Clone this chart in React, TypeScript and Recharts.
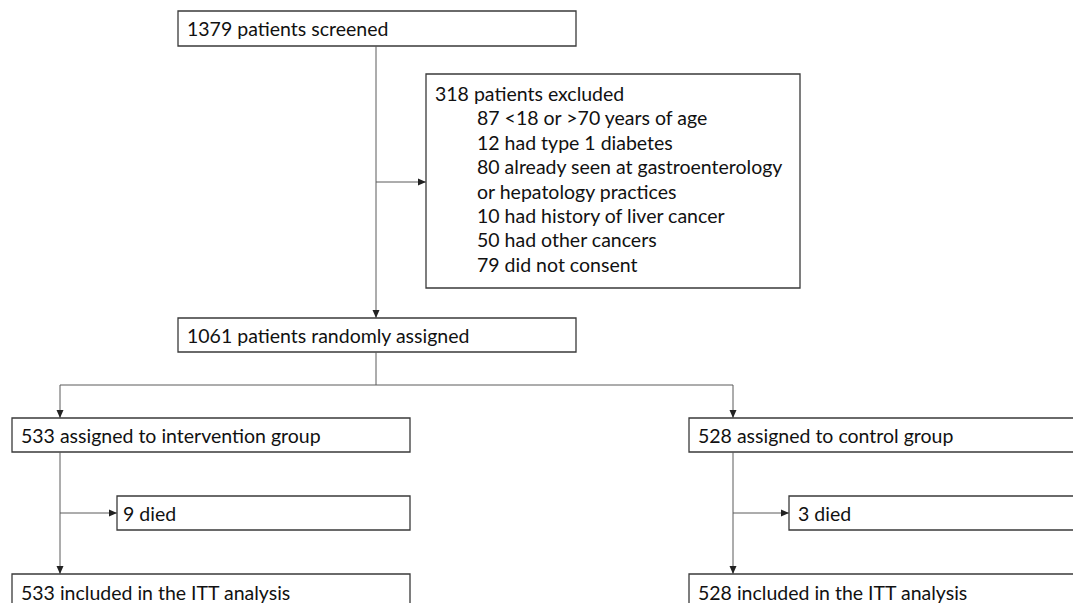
import { ComposedChart, XAxis, YAxis, ReferenceArea, ReferenceLine, Scatter } from "recharts";

// flowchart laid out in a 1073 x 603 data space (y grows downward)
const boxes = [
  { id: "screened", x1: 178, x2: 576, y1: 11, y2: 46 },
  { id: "excluded", x1: 426, x2: 800, y1: 74, y2: 288 },
  { id: "randomised", x1: 178, x2: 576, y1: 318, y2: 352 },
  { id: "intervention", x1: 12, x2: 410, y1: 418, y2: 452 },
  { id: "control", x1: 689, x2: 1080, y1: 418, y2: 452 },
  { id: "diedA", x1: 117, x2: 410, y1: 496, y2: 530 },
  { id: "diedB", x1: 789, x2: 1080, y1: 496, y2: 530 },
  { id: "ittA", x1: 12, x2: 410, y1: 574, y2: 612 },
  { id: "ittB", x1: 689, x2: 1080, y1: 574, y2: 612 },
];

const connectors = [
  { from: [376, 46], to: [376, 318] },
  { from: [376, 182], to: [426, 182] },
  { from: [376, 352], to: [376, 385] },
  { from: [60, 385], to: [733, 385] },
  { from: [60, 385], to: [60, 418] },
  { from: [733, 385], to: [733, 418] },
  { from: [60, 452], to: [60, 574] },
  { from: [60, 513], to: [117, 513] },
  { from: [733, 452], to: [733, 574] },
  { from: [733, 513], to: [789, 513] },
];

const arrowHeads = [
  { x: 376, y: 318, dir: "down" },
  { x: 426, y: 182, dir: "right" },
  { x: 60, y: 418, dir: "down" },
  { x: 733, y: 418, dir: "down" },
  { x: 60, y: 574, dir: "down" },
  { x: 117, y: 513, dir: "right" },
  { x: 733, y: 574, dir: "down" },
  { x: 789, y: 513, dir: "right" },
];

const labels = [
  { x: 187, y: 28, text: "1379 patients screened" },
  { x: 435, y: 93, text: "318 patients excluded" },
  { x: 477, y: 117, text: "87 <18 or >70 years of age" },
  { x: 477, y: 142, text: "12 had type 1 diabetes" },
  { x: 477, y: 166, text: "80 already seen at gastroenterology" },
  { x: 477, y: 191, text: "or hepatology practices" },
  { x: 477, y: 215, text: "10 had history of liver cancer" },
  { x: 477, y: 239, text: "50 had other cancers" },
  { x: 477, y: 264, text: "79 did not consent" },
  { x: 187, y: 335, text: "1061 patients randomly assigned" },
  { x: 21, y: 435, text: "533 assigned to intervention group" },
  { x: 698, y: 435, text: "528 assigned to control group" },
  { x: 123, y: 513, text: "9 died" },
  { x: 798, y: 513, text: "3 died" },
  { x: 21, y: 592, text: "533 included in the ITT analysis" },
  { x: 698, y: 592, text: "528 included in the ITT analysis" },
];

const LINE = "#5a5a5a";
const BORDER = "#3a3a3a";

const TextShape = (props: any) => {
  const { cx, cy, payload } = props;
  return (
    <text
      x={cx}
      y={cy}
      dominantBaseline="central"
      fontFamily="Lato, 'Open Sans', sans-serif"
      fontSize={19.5}
      fill="#111"
      style={{ whiteSpace: "pre" }}
    >
      {payload.text}
    </text>
  );
};

const ArrowShape = (props: any) => {
  const { cx, cy, payload } = props;
  const pts =
    payload.dir === "down"
      ? `${cx - 3.5},${cy - 8} ${cx + 3.5},${cy - 8} ${cx},${cy}`
      : `${cx - 8},${cy - 3.5} ${cx - 8},${cy + 3.5} ${cx},${cy}`;
  return <polygon points={pts} fill="#222" />;
};

export default function App() {
  return (
    <div style={{ position: "fixed", left: 0, top: 0, width: 1073, height: 603, background: "#fff" }}>
      <ComposedChart width={1073} height={603} margin={{ top: 0, right: 0, bottom: 0, left: 0 }}>
        <XAxis type="number" dataKey="x" domain={[0, 1073]} hide />
        <YAxis type="number" dataKey="y" domain={[0, 603]} reversed hide />
        {connectors.map((c, i) => (
          <ReferenceLine
            key={"c" + i}
            segment={[
              { x: c.from[0], y: c.from[1] },
              { x: c.to[0], y: c.to[1] },
            ]}
            stroke={LINE}
            strokeWidth={1}
            ifOverflow="visible"
          />
        ))}
        {boxes.map((b) => (
          <ReferenceArea
            key={b.id}
            x1={b.x1}
            x2={b.x2}
            y1={b.y1}
            y2={b.y2}
            fill="#fff"
            fillOpacity={1}
            stroke={BORDER}
            strokeWidth={1.3}
            ifOverflow="visible"
          />
        ))}
        <Scatter data={arrowHeads} shape={<ArrowShape />} isAnimationActive={false} />
        <Scatter data={labels} shape={<TextShape />} isAnimationActive={false} />
      </ComposedChart>
    </div>
  );
}
